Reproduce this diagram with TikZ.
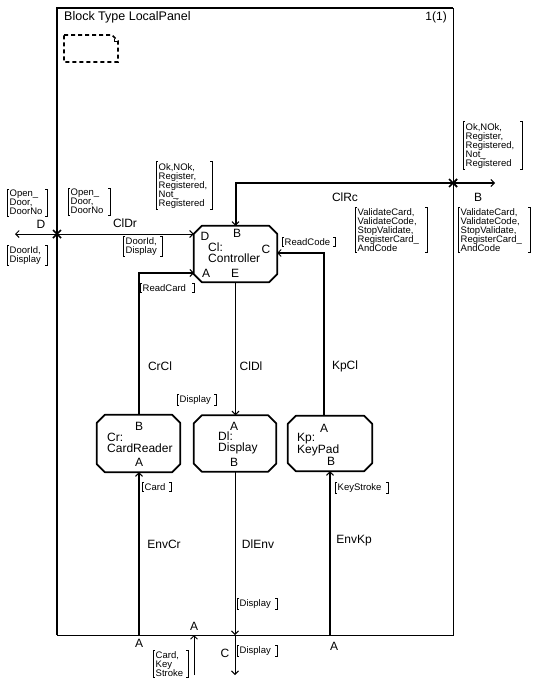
\documentclass[tikz,border=0pt]{standalone}
\usepackage{fontspec}
\setmainfont{Liberation Sans}
\usetikzlibrary{arrows.meta}
\newcommand\siglist[5]{%
  \pgfmathsetmacro\sigw{#4-#2-5}%
  \node[sigtxt, text width=\sigw pt] (#1) at (#2,#3) {#5};
  \draw[brk] ([xshift=2pt]#1.north west) -- (#1.north west) -- (#1.south west) -- ([xshift=2pt]#1.south west);
  \draw[brk] ([xshift=-2pt]#1.north east) -- (#1.north east) -- (#1.south east) -- ([xshift=-2pt]#1.south east);}
\newcommand\octoframe[1]{%
  \draw[blkline] ([xshift=8pt]#1.north west) -- ([xshift=-8pt]#1.north east) -- ([yshift=-8pt]#1.north east)
    -- ([yshift=8pt]#1.south east) -- ([xshift=-8pt]#1.south east) -- ([xshift=8pt]#1.south west)
    -- ([yshift=8pt]#1.south west) -- ([yshift=-8pt]#1.north west) -- cycle;}
\begin{document}
\begin{tikzpicture}[x=1pt,y=-1pt,
  lbl/.style={font=\fontsize{12}{12}\selectfont, inner sep=0pt},
  btxt/.style={font=\fontsize{12}{11.5}\selectfont, inner sep=0pt, align=left, anchor=west},
  sigtxt/.style={font=\fontsize{9.5}{9}\selectfont, align=left, inner xsep=2.5pt, inner ysep=1pt, anchor=north west},
  blk/.style={rectangle, minimum width=83pt, minimum height=56pt, inner sep=0pt},
  blkline/.style={line width=1.8pt, line join=round},
  thk/.style={line width=2pt},
  thn/.style={line width=0.8pt},
  tip/.style={-{Straight Barb[length=3.5pt,width=7pt,line width=1pt]}},
  brk/.style={line width=1pt},
  crs/.style={line width=1.6pt},
]
\useasboundingbox (0,0) rectangle (538,687);
% frame
\draw[thk] (57,635) -- (57,8) -- (453,8);
\draw[thn] (453,8) -- (453,635) -- (57,635);
\node[lbl, anchor=west, font=\fontsize{12.5}{12.5}\selectfont] (title) at (64,17) {Block Type LocalPanel};
\node[lbl, anchor=east] (page) at (447,17) {1(1)};
\draw[line width=1.6pt, dash pattern=on 4pt off 3pt] (64,35) -- (112,35) -- (118,41) -- (118,62) -- (64,62) -- cycle;
\draw[line width=1pt] (114,39) -- (114,42) -- (117,42);

% blocks
\node[blk] (ctl) at (235.5,254) {};
\node[blk, minimum height=57pt] (cr) at (138.5,443.5) {};
\node[blk, minimum width=82pt] (dl) at (235,443.5) {};
\node[blk, minimum width=84pt, minimum height=55pt] (kp) at (330,443.5) {};
\octoframe{ctl}
\octoframe{cr}
\octoframe{dl}
\octoframe{kp}
\node[btxt] (ctlname) at (208,252.5) {Cl:\\Controller};
\node[btxt] (crname) at (107,443) {Cr:\\CardReader};
\node[btxt] (dlname) at (218,443) {Dl:\\Display};
\node[btxt] (kpname) at (297,444.5) {Kp:\\KeyPad};
% port letters
\node[lbl] (pctlD) at (205,236) {D};
\node[lbl] (pctlB) at (237,233) {B};
\node[lbl] (pctlC) at (266,249) {C};
\node[lbl] (pctlA) at (206,273) {A};
\node[lbl] (pctlE) at (235,273) {E};
\node[lbl] (pcrB) at (139,426) {B};
\node[lbl] (pcrA) at (139,462) {A};
\node[lbl] (pdlA) at (234,426) {A};
\node[lbl] (pdlB) at (234,462) {B};
\node[lbl] (pkpA) at (324,428) {A};
\node[lbl] (pkpB) at (331,461) {B};

% gates and coordinates
\coordinate (gD) at (57,234);   \coordinate (envD) at (15,234);
\coordinate (gB) at (453,183);  \coordinate (envB) at (495,183);
\coordinate (gA) at (194,635);  \coordinate (envA) at (194,675);
\coordinate (gC) at (235,635);  \coordinate (envC) at (235,675);
\coordinate (gCr) at (139,635); \coordinate (gKp) at (330,635);
\coordinate (ctlA) at (194,273); \coordinate (ctlC) at (277,253);
\coordinate (kpA) at (324,416);

% channels
\draw[thn, tip] (gD) -- (ctl.west |- gD);
\draw[thn, tip] (gD) -- (envD);
\draw[thk, tip] (gB) -| (ctl.north);
\draw[thk, {Straight Barb[length=3.5pt,width=7pt,line width=1pt]}-{Straight Barb[length=3.5pt,width=7pt,line width=1pt]}] (gB) -- (envB);
\draw[thk, tip] (cr.north -| gCr) |- (ctlA);
\draw[thn, tip] (ctl.south) -- (ctl.south |- dl.north);
\draw[thk, tip] (kpA) |- (ctlC);
\draw[thk, tip] (gCr) -- (gCr |- cr.south);
\draw[thn, tip] (dl.south) -- (dl.south |- gC);
\draw[thn, tip] (gC) -- (envC);
\draw[thk, tip] (gKp) -- (gKp |- kp.south);
\draw[thn, tip] (envA) -- (gA);
% crosses at gates
\draw[crs] ([xshift=-4pt,yshift=-4pt]gD) -- ([xshift=4pt,yshift=4pt]gD) ([xshift=-4pt,yshift=4pt]gD) -- ([xshift=4pt,yshift=-4pt]gD);
\draw[crs] ([xshift=-4pt,yshift=-4pt]gB) -- ([xshift=4pt,yshift=4pt]gB) ([xshift=-4pt,yshift=4pt]gB) -- ([xshift=4pt,yshift=-4pt]gB);

% channel names
\node[lbl] (nClDr) at (125,223) {ClDr};
\node[lbl] (nClRc) at (345,197) {ClRc};
\node[lbl] (nCrCl) at (160,366) {CrCl};
\node[lbl] (nClDl) at (251,366) {ClDl};
\node[lbl] (nKpCl) at (345,366) {KpCl};
\node[lbl] (nEnvCr) at (164,544) {EnvCr};
\node[lbl] (nDlEnv) at (258,544) {DlEnv};
\node[lbl] (nEnvKp) at (354,541) {EnvKp};
% gate names
\node[lbl] (lgD) at (41,224) {D};
\node[lbl] (lgB) at (478,197) {B};
\node[lbl] (lgA) at (194,626) {A};
\node[lbl] (lgCr) at (139,643) {A};
\node[lbl] (lgC) at (225,653) {C};
\node[lbl] (lgKp) at (334,646) {A};

% signal lists
\siglist{s1}{7}{189}{47}{Open\_\\Door,\\DoorNo}
\siglist{s2}{68}{188}{110}{Open\_\\Door,\\DoorNo}
\siglist{s3}{7}{245}{47}{DoorId,\\Display}
\siglist{s4}{156}{162}{212}{Ok,NOk,\\Register,\\Registered,\\Not\_\\Registered}
\siglist{s5}{123}{236}{162}{DoorId,\\Display}
\siglist{s6}{140}{283}{194}{ReadCard}
\siglist{s7}{282}{237}{335}{ReadCode}
\siglist{s8}{355}{207}{427}{ValidateCard,\\ValidateCode,\\StopValidate,\\RegisterCard\_\\AndCode}
\siglist{s9}{463}{122}{522}{Ok,NOk,\\Register,\\Registered,\\Not\_\\Registered}
\siglist{s10}{458}{207}{530}{ValidateCard,\\ValidateCode,\\StopValidate,\\RegisterCard\_\\AndCode}
\siglist{s11}{177}{394}{216}{Display}
\siglist{s12}{142}{482}{171}{Card}
\siglist{s13}{335}{482}{388}{KeyStroke}
\siglist{s14}{237}{598}{277}{Display}
\siglist{s15}{237}{645}{277}{Display}
\siglist{s16}{153}{650}{188}{Card,\\Key\\Stroke}
\end{tikzpicture}
\end{document}
